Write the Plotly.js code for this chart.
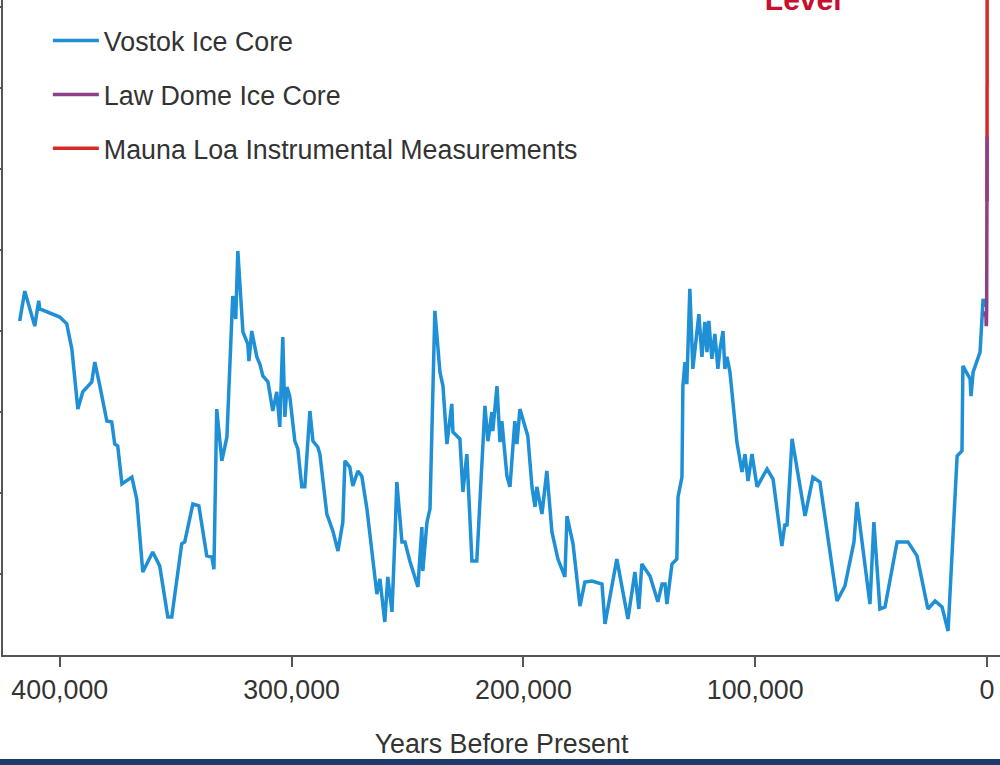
<!DOCTYPE html>
<html><head><meta charset="utf-8">
<script src="https://cdn.plot.ly/plotly-3.0.1.min.js"></script>
<style>
html,body{margin:0;padding:0;width:1000px;height:765px;overflow:hidden;background:#fff;}
#chart{position:absolute;left:-80px;top:-200px;width:1080px;height:965px;}
#bar{position:absolute;left:0;top:759px;width:1000px;height:6px;background:#1d3a6b;}
</style></head><body>
<div id="chart"></div><div id="bar"></div>
<script>
// Vostok ice core: years before present / CO2 (ppm)
const vostokYears = [417300,415100,410800,409100,408600,400000,397000,394800,392200,390100,386200,384900,382700,379700,377600,376300,375000,373200,368900,366800,364200,359900,356900,353400,351700,347400,346100,342600,340000,336600,334400,333500,332300,330100,327900,325400,324100,323200,321000,318900,318400,317200,315000,313700,312400,310200,308100,306400,305100,303800,302900,302000,300800,298600,297300,295600,294300,292100,290800,288700,287800,284800,282200,280000,277900,277000,274900,273600,271400,269700,267500,264900,263200,261900,259800,258500,256700,255400,254600,252400,251100,249000,246800,245500,243800,243400,241600,240300,238200,236000,234700,233000,230900,230400,227400,226100,224400,222200,220100,217900,216600,215300,213600,213200,211400,210100,209300,207100,205800,203700,202800,201500,198100,196300,195000,194200,192000,189900,187700,185100,182100,181200,178600,175600,173500,170400,166100,164800,159700,154900,151900,150200,148900,145400,142000,140200,138900,138100,135900,133800,133300,131600,131200,130300,129500,128200,126900,124300,123000,121700,120800,120000,118700,117400,116100,115200,113900,113100,112200,110900,107900,105700,104400,103100,101400,99200,94900,92300,88500,87200,86300,84100,78500,75100,72100,64700,61300,57400,56100,50500,48800,46200,44000,38800,34100,30200,25500,22400,19400,16800,12900,10800,10400,7300,6900,6000,3000,1700,900];
const vostokPpm = [278.1,287.3,276.5,284.3,281.8,279.3,277.2,269.4,250.9,256.2,259.3,265.4,258.0,247.2,246.9,240.1,239.5,227.8,229.9,223.1,200.6,206.8,202.5,186.7,186.7,209.3,209.9,221.6,221.0,205.6,205.2,201.5,250.9,234.9,242.3,285.8,278.7,299.7,274.7,271.0,265.7,275.0,267.0,264.8,261.1,259.3,250.3,256.2,245.4,273.1,248.5,257.7,254.9,241.0,238.6,226.9,226.9,250.3,241.0,239.2,237.0,218.5,213.3,207.1,216.0,234.9,233.0,227.2,231.8,230.2,220.1,203.7,193.8,198.5,185.2,199.1,188.3,211.7,228.4,209.9,209.9,204.0,199.4,196.0,214.5,200.9,216.0,220.1,281.2,262.3,258.0,240.1,252.5,243.8,241.7,225.3,237.0,204.0,204.0,234.0,251.9,241.0,250.0,244.1,258.0,240.7,247.2,230.2,226.9,247.2,240.1,250.9,242.6,226.9,220.7,226.9,218.5,231.8,213.0,204.6,199.1,217.9,209.3,190.1,197.5,197.8,196.9,184.6,204.6,186.1,200.6,189.2,203.1,199.4,191.4,196.9,196.9,190.7,203.1,204.6,223.8,229.9,258.0,265.4,258.6,288.0,263.3,280.2,267.0,277.8,268.5,278.1,266.4,274.1,263.3,269.4,275.0,263.3,267.0,262.3,240.7,231.5,237.0,228.7,237.0,226.9,232.4,229.3,208.6,215.4,214.8,241.7,217.9,229.9,228.4,191.7,196.3,209.9,222.2,190.7,216.0,189.2,189.8,209.9,209.9,205.6,189.2,191.7,189.8,182.4,236.4,238.0,264.2,260.2,254.9,262.3,268.5,284.9,282.4];

// Law Dome ice core (years before 1950 / ppm)
const lawDomeYears = [944,800,600,450,350,250,150,100,60,30,0,-20,-28];
const lawDomePpm = [279.4,280.0,281.0,280.0,276.5,277.0,283.0,290.0,300.0,308.0,311.0,322.0,335.0];

// Mauna Loa instrumental record (years before 1950 / ppm)
const maunaLoaYears = [-8,-15,-22,-30,-40,-50,-60,-68];
const maunaLoaPpm = [315.0,320.0,326.0,339.0,354.0,369.0,389.0,408.0];

const xTickVals = [400000,300000,200000,100000,0];
const xTickText = ['400,000','300,000','200,000','100,000','0'];
const yTickVals = [200,225,250,275,300,325,350,375,400,425];

const FONT = 'Liberation Sans, Arial, Helvetica, sans-serif';
const TXT = '#333333';

const traces = [
  {x: vostokYears, y: vostokPpm, type:'scatter', mode:'lines', name:'Vostok Ice Core',
   line:{color:'#1f8fd6', width:3.5}, legendgroup:'a', legendrank:1},
  {x: maunaLoaYears, y: maunaLoaPpm, type:'scatter', mode:'lines', name:'Mauna Loa Instrumental Measurements',
   line:{color:'#d42a2a', width:3.5}, legendgroup:'c', legendrank:3},
  {x: lawDomeYears, y: lawDomePpm, type:'scatter', mode:'lines', name:'Law Dome Ice Core',
   line:{color:'#8e3f8a', width:3.5}, legendgroup:'b', legendrank:2}
];

const layout = {
  width:1080, height:965,
  margin:{l:83, r:0, t:20, b:110},
  paper_bgcolor:'#ffffff', plot_bgcolor:'#ffffff',
  font:{family:FONT, color:TXT, size:26.8},
  showlegend:true,
  legend:{x:0.045, xanchor:'left', y:0.7645, yanchor:'top', font:{family:FONT, size:26.8, color:TXT},
          itemwidth:46, tracegroupgap:16, bgcolor:'rgba(0,0,0,0)', traceorder:'grouped'},
  xaxis:{range:[424500,-5600], tickvals:xTickVals, ticktext:xTickText, ticks:'outside', ticklen:10,
         tickwidth:2, tickcolor:'#555', showline:true, linecolor:'#555', linewidth:2,
         showgrid:false, zeroline:false, tickfont:{family:FONT, size:26.8, color:TXT},
         title:{text:'Years Before Present', font:{family:FONT, size:26.8, color:TXT}, standoff:30}},
  yaxis:{range:[175,432.7], tickvals:yTickVals, ticks:'outside', ticklen:8, tickwidth:2, tickcolor:'#555',
         showline:true, linecolor:'#555', linewidth:2, showgrid:false, zeroline:false, showticklabels:false},
  annotations:[{x:79400, y:371.5, xref:'x', yref:'y', text:'<b>Current<br>Level</b>', showarrow:false,
                yanchor:'bottom', xanchor:'center', font:{family:FONT, size:30, color:'#c8102e'}}]
};

Plotly.newPlot('chart', traces, layout, {displayModeBar:false, staticPlot:true});
</script></body></html>
